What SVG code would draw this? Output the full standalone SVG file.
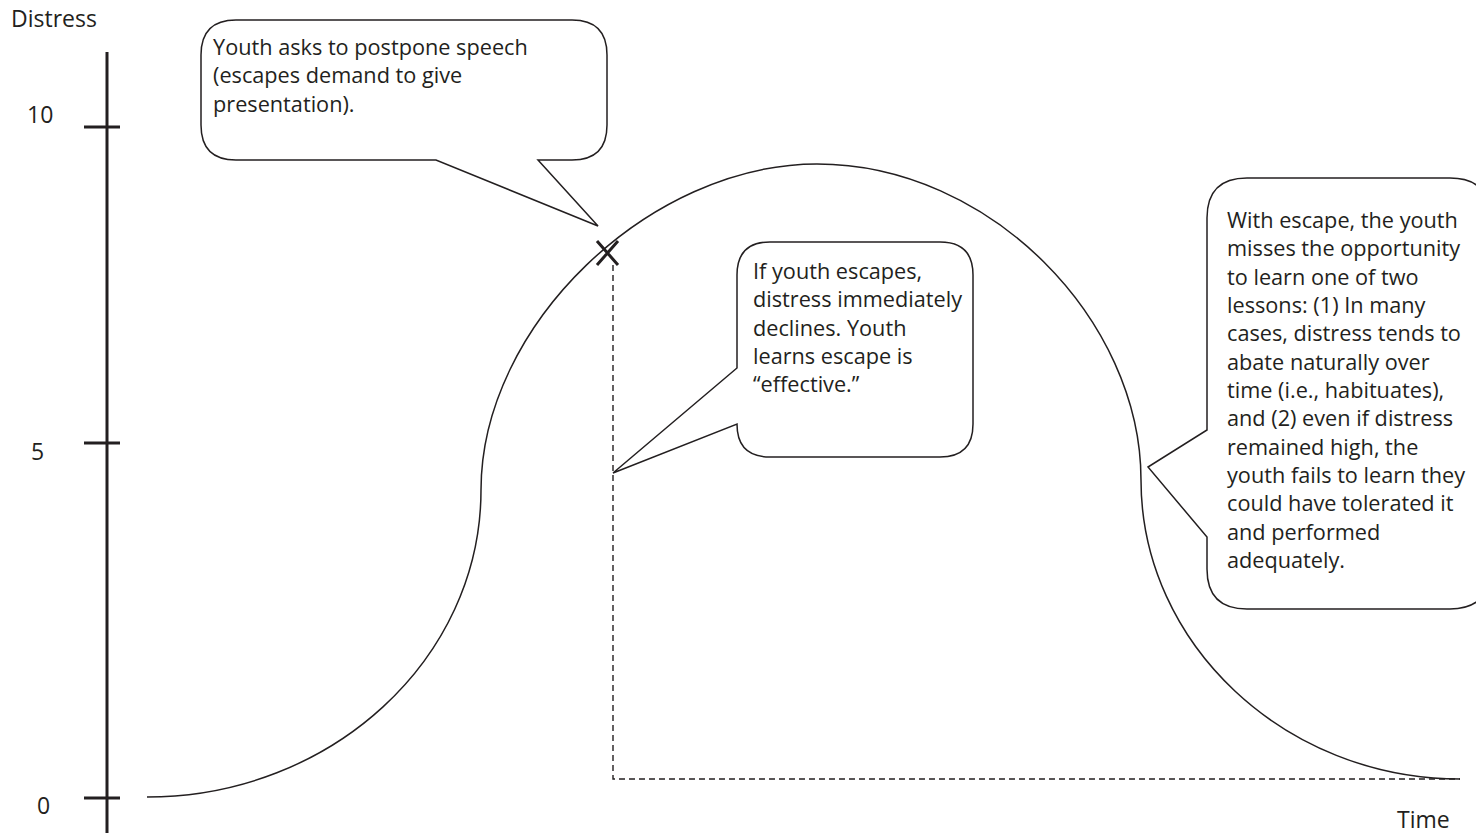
<svg xmlns="http://www.w3.org/2000/svg" width="1476" height="833" viewBox="0 0 1476 833">
<style>
.bub{fill:#fff;stroke:#231f20;stroke-width:1.5;stroke-linejoin:miter}
.t{font-family:"Open Sans","Noto Sans","Liberation Sans",sans-serif;font-size:21.7px;fill:#231f20}
.ax{font-family:"Open Sans","Noto Sans","Liberation Sans",sans-serif;font-size:23px;fill:#231f20}
.axis{stroke:#231f20;stroke-width:3;fill:none}
.curve{stroke:#231f20;stroke-width:1.5;fill:none}
.dash{stroke:#231f20;stroke-width:1.4;fill:none;stroke-dasharray:6 4}
</style>
<rect width="1476" height="833" fill="#fff"/>
<g id="axis">
<line class="axis" x1="107" y1="52" x2="107" y2="833"/>
<line class="axis" x1="84" y1="127" x2="120" y2="127"/>
<line class="axis" x1="84" y1="443" x2="120" y2="443"/>
<line class="axis" x1="84" y1="798" x2="120" y2="798"/>
<text class="ax" x="11" y="27">Distress</text>
<text class="ax" x="27" y="123">10</text>
<text class="ax" x="31" y="460">5</text>
<text class="ax" x="37" y="814">0</text>
<text class="ax" x="1397" y="828">Time</text>
</g>
<g id="connectors">
<path class="curve" d="M147,797 C331,797 481,659 481,490 C481,325 650,164 817,164 C990,164 1141,320 1141,480 C1141,644 1285,779 1460,779"/>
<path class="dash" d="M613,265 V779 H1460"/>
<path d="M597,241 L618,265 M618,241 L597,265" stroke="#231f20" stroke-width="3" fill="none"/>
</g>
<g id="callout-postpone">
<path class="bub" d="M236,20 H572 Q607,20 607,55 V125 Q607,160 572,160 H538 L598,226 L436,160 H236 Q201,160 201,125 V55 Q201,20 236,20 Z"/>
<text class="t"><tspan x="213" y="55">Youth asks to postpone speech</tspan><tspan x="213" y="83">(escapes demand to give</tspan><tspan x="213" y="112">presentation).</tspan></text>
</g>
<g id="callout-effective">
<path class="bub" d="M770,242 H940 Q973,242 973,275 V424 Q973,457 940,457 H770 Q737,457 737,424 L613,473 L737,368 V275 Q737,242 770,242 Z"/>
<text class="t"><tspan x="753" y="279">If youth escapes,</tspan><tspan x="753" y="307">distress immediately</tspan><tspan x="753" y="336">declines. Youth</tspan><tspan x="753" y="364">learns escape is</tspan><tspan x="753" y="392">“effective.”</tspan></text>
</g>
<g id="callout-missed">
<path class="bub" d="M1247,178 H1450 Q1490,178 1490,218 V569 Q1490,609 1450,609 H1247 Q1207,609 1207,569 V537 L1148,467 L1207,430 V218 Q1207,178 1247,178 Z"/>
<text class="t"><tspan x="1227" y="228">With escape, the youth</tspan><tspan x="1227" y="256">misses the opportunity</tspan><tspan x="1227" y="285">to learn one of two</tspan><tspan x="1227" y="313">lessons: (1) In many</tspan><tspan x="1227" y="341">cases, distress tends to</tspan><tspan x="1227" y="370">abate naturally over</tspan><tspan x="1227" y="398">time (i.e., habituates),</tspan><tspan x="1227" y="426">and (2) even if distress</tspan><tspan x="1227" y="455">remained high, the</tspan><tspan x="1227" y="483">youth fails to learn they</tspan><tspan x="1227" y="511">could have tolerated it</tspan><tspan x="1227" y="540">and performed</tspan><tspan x="1227" y="568">adequately.</tspan></text>
</g>
</svg>
